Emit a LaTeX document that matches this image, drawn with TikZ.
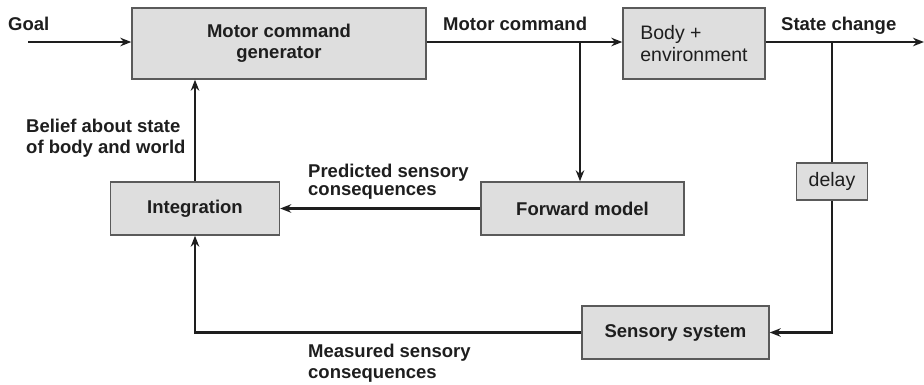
\documentclass[tikz,border=0pt]{standalone}
\usepackage{fontspec}
\setmainfont{Liberation Sans}
\usetikzlibrary{arrows.meta}
\definecolor{boxfill}{HTML}{DEDEDE}
\definecolor{boxline}{HTML}{5A5A5A}
\definecolor{ink}{HTML}{1E1E1E}
\begin{document}
\begin{tikzpicture}[x=1pt,y=-1pt,
  bfont/.style={font=\bfseries\fontsize{18.5}{21}\selectfont},
  rfont/.style={font=\fontsize{19.5}{22}\selectfont},
  box/.style={draw=boxline, fill=boxfill, line width=1.4pt, inner sep=0pt, text=ink, align=center, bfont},
  wire/.style={line width=2.2pt, draw=ink},
  arr/.style={wire, -{Stealth[length=11pt,width=8.5pt]}},
  lab/.style={bfont, text=ink, inner sep=0pt, anchor=base west}]
\useasboundingbox (0,0) rectangle (924,384);
% boxes
\node[box, minimum width=294pt, minimum height=71pt] (mcg) at (279,43.5) {Motor command\\generator};
\node[box, rfont, align=left, minimum width=142pt, minimum height=71pt] (body) at (694,43.5) {Body +\\environment};
\node[box, minimum width=169pt, minimum height=53pt] (integ) at (195,208.5) {Integration};
\node[box, minimum width=203pt, minimum height=53pt] (fwd) at (582.5,208.5) {Forward model};
\node[box, rfont, minimum width=71pt, minimum height=37pt] (delay) at (832,181.5) {delay};
\node[box, minimum width=187pt, minimum height=53pt] (sens) at (675.5,332.5) {Sensory system};
% coordinates
\coordinate (goalstart) at (28,42);
\coordinate (b1) at (580,42);
\coordinate (b2) at (832,42);
\coordinate (out) at (924,42);
% connectors
\draw[arr] (goalstart) -- (goalstart -| mcg.west);
\draw[arr] (mcg.east |- b1) -- (body.west |- b1);
\draw[arr] (b1) -- (b1 |- fwd.north);
\draw[arr] (body.east |- b2) -- (out);
\draw[wire] (b2) -- (delay.north);
\draw[arr] (delay.south) -- (delay.south |- sens.east) -- (sens.east);
\draw[arr] (fwd.west) -- (integ.east);
\draw[arr] (sens.west) -- (integ.south |- sens.west) -- (integ.south);
\draw[arr] (integ.north) -- (mcg.south -| integ.north);
% labels
\node[lab] (lgoal) at (8,30) {Goal};
\node[lab] (lmc) at (443,30) {Motor command};
\node[lab] (lsc) at (781,30) {State change};
\node[lab] (lb1) at (26,132) {Belief about state};
\node[lab] (lb2) at (26,153) {of body and world};
\node[lab] (lp1) at (308,177) {Predicted sensory};
\node[lab] (lp2) at (308,195) {consequences};
\node[lab] (lm1) at (308,357) {Measured sensory};
\node[lab] (lm2) at (308,378) {consequences};
\end{tikzpicture}
\end{document}
